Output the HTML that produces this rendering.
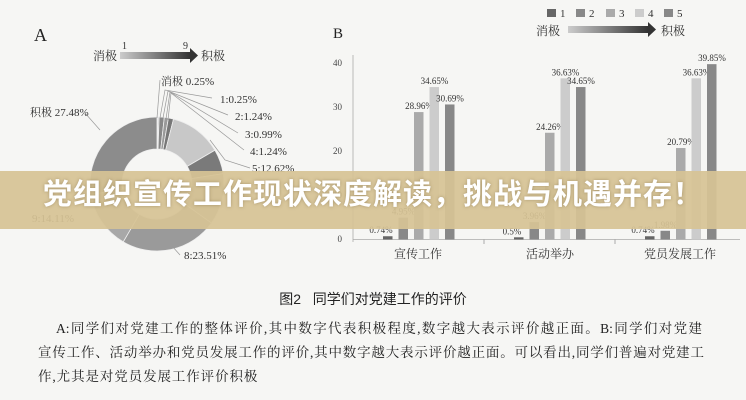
<!DOCTYPE html>
<html><head><meta charset="utf-8"><style>
body{margin:0;width:746px;height:400px;overflow:hidden;background:#f6f6f4;font-family:"Liberation Serif","Noto Serif CJK SC",serif;}
#wrap{position:relative;width:746px;height:400px;}
svg{position:absolute;left:0;top:0}
.banner{position:absolute;left:0;top:171px;width:746px;height:58px;background:rgba(214,195,148,0.93);}
.btxt{position:absolute;left:0;top:171px;width:746px;height:58px;line-height:58px;text-align:center;color:#fff;font:bold 29px "Liberation Sans","Noto Sans CJK SC",sans-serif;letter-spacing:1px;text-shadow:0 0 3px rgba(120,100,60,.5);}
.cap{position:absolute;top:289px;left:0;width:746px;text-align:center;font:14px "Liberation Sans","Noto Sans CJK SC",sans-serif;color:#222}
.p{position:absolute;font-size:13.5px;color:#222;font-family:"Liberation Serif","Noto Serif CJK SC",serif;white-space:nowrap}
.j{text-align:justify;text-align-last:justify;white-space:normal}
</style></head><body><div id="wrap">
<svg id="s" width="746" height="400" viewBox="0 0 746 400" font-family="Liberation Serif, Noto Serif CJK SC, serif">
<defs><linearGradient id="g" x1="0" x2="1"><stop offset="0" stop-color="#ccc"/><stop offset="1" stop-color="#333"/></linearGradient></defs>
<text x="34" y="41" font-size="18" fill="#222">A</text>
<text x="93" y="60" font-size="12" fill="#333">消极</text>
<text x="122" y="49" font-size="10" fill="#333">1</text>
<text x="183" y="49" font-size="10" fill="#333">9</text>
<rect x="120" y="52" width="70" height="7" fill="url(#g)"/><polygon points="190,48 198,55.5 190,63" fill="#333"/>
<text x="201" y="60" font-size="12" fill="#333">积极</text>
<g id="donut"></g>
<g font-size="11" fill="#333">
<text x="161" y="85">消极  0.25%</text>
<text x="220" y="103">1:0.25%</text>
<text x="235" y="120">2:1.24%</text>
<text x="245" y="138">3:0.99%</text>
<text x="250" y="155">4:1.24%</text>
<text x="252" y="172">5:12.62%</text>
<text x="30" y="116">积极 27.48%</text>
<text x="32" y="222">9:14.11%</text>
<text x="184" y="259">8:23.51%</text>
</g>
<g stroke="#999" fill="none" stroke-width=".7">
<path d="M157 118 L160 80"/><path d="M160 118 L165 90 L212 98"/><path d="M163 118 L168 91 L228 115"/><path d="M166 119 L170 92 L238 133"/><path d="M168 120 L171 93 L244 150"/><path d="M210 140 L225 160 L250 168"/><path d="M85 113 L100 130"/><path d="M172 246 L180 255"/>
</g>
<text x="333" y="38" font-size="15" fill="#222">B</text>
<g font-size="11" fill="#333">
<rect x="547" y="9" width="9" height="8" fill="#666"/><text x="560" y="17">1</text>
<rect x="576" y="9" width="9" height="8" fill="#888"/><text x="589" y="17">2</text>
<rect x="606" y="9" width="9" height="8" fill="#aaa"/><text x="619" y="17">3</text>
<rect x="635" y="9" width="9" height="8" fill="#ccc"/><text x="648" y="17">4</text>
<rect x="664" y="9" width="9" height="8" fill="#888"/><text x="677" y="17">5</text>
<text x="536" y="35" font-size="12">消极</text>
<rect x="568" y="26" width="80" height="7" fill="url(#g)"/><polygon points="648,22 656,29.5 648,37" fill="#333"/>
<text x="661" y="35" font-size="12">积极</text>
</g>
<g font-size="9" fill="#444" text-anchor="end">
<text x="342" y="66">40</text><text x="342" y="110">30</text><text x="342" y="154">20</text><text x="342" y="198">10</text><text x="342" y="242">0</text>
</g>
<line x1="353" y1="55" x2="353" y2="242" stroke="#aaa" stroke-width=".8"/>
<line x1="353" y1="239.5" x2="740" y2="239.5" stroke="#aaa" stroke-width=".8"/>
<line x1="484" y1="239" x2="484" y2="244" stroke="#aaa"/><line x1="615" y1="239" x2="615" y2="244" stroke="#aaa"/>
<g id="bars" font-size="9" fill="#333" text-anchor="middle"></g>
<g font-size="12" fill="#333" text-anchor="middle">
<text x="418" y="258">宣传工作</text><text x="550" y="258">活动举办</text><text x="680" y="258">党员发展工作</text>
</g>
</svg>
<div class="banner"></div>
<div class="btxt">党组织宣传工作现状深度解读，挑战与机遇并存！</div>
<div class="cap">图2&nbsp;&nbsp;&nbsp;同学们对党建工作的评价</div>
<div class="p j" style="left:56px;top:317px;width:646px">A:同学们对党建工作的整体评价,其中数字代表积极程度,数字越大表示评价越正面。B:同学们对党建</div>
<div class="p j" style="left:38px;top:341px;width:666px">宣传工作、活动举办和党员发展工作的评价,其中数字越大表示评价越正面。可以看出,同学们普遍对党建工</div>
<div class="p" style="left:38px;top:365px;letter-spacing:0.9px">作,尤其是对党员发展工作评价积极</div>
</div>
<script>
var NS="http://www.w3.org/2000/svg";
var vals=[0.25,0.25,1.24,0.99,1.24,12.62,5.94,12.37,23.51,14.11,27.48];
var cols=["#ddd","#666","#888","#999","#777","#c8c8c8","#7a7a7a","#a5a5a5","#9a9a9a","#a8a8a8","#8c8c8c"];
var cx=157,cy=184,R=67,r=35,tot=0;vals.forEach(function(v){tot+=v});
var a=-Math.PI/2,g=document.getElementById("donut");
vals.forEach(function(v,i){var b=a+v/tot*2*Math.PI;
function p(rr,t){return (cx+rr*Math.cos(t)).toFixed(2)+" "+(cy+rr*Math.sin(t)).toFixed(2)}
var l=(b-a)>Math.PI?1:0;
var d="M"+p(R,a)+" A"+R+" "+R+" 0 "+l+" 1 "+p(R,b)+" L"+p(r,b)+" A"+r+" "+r+" 0 "+l+" 0 "+p(r,a)+"Z";
var e=document.createElementNS(NS,"path");e.setAttribute("d",d);e.setAttribute("fill",cols[i]);e.setAttribute("stroke","#eee");e.setAttribute("stroke-width","0.8");g.appendChild(e);a=b;});
var data=[[0.74,4.95,28.96,34.65,30.69],[0.5,3.96,24.26,36.63,34.65],[0.74,1.98,20.79,36.63,39.85]];
var bc=["#666","#888","#aaa","#ccc","#888"],starts=[383,514,645],bg=document.getElementById("bars");
data.forEach(function(gr,gi){gr.forEach(function(v,j){var x=starts[gi]+j*15.5,h=v*4.4,y=239.5-h;
var e=document.createElementNS(NS,"rect");e.setAttribute("x",x);e.setAttribute("y",y);e.setAttribute("width",9.5);e.setAttribute("height",h);e.setAttribute("fill",bc[j]);bg.appendChild(e);
var t=document.createElementNS(NS,"text");t.setAttribute("x",j==0?x-2:x+5);t.setAttribute("y",y-3);t.textContent=v+"%";bg.appendChild(t);});});
</script>
</body></html>
